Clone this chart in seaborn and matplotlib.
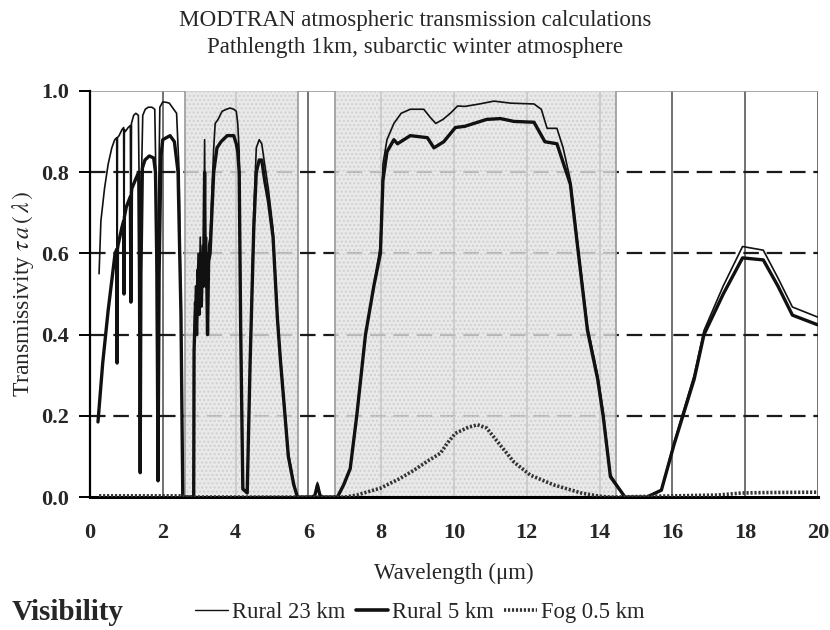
import numpy as np
import pandas as pd
import matplotlib
matplotlib.use("Agg")
import matplotlib.pyplot as plt
from matplotlib.lines import Line2D
import seaborn as sns

# ---- spectra (wavelength in um, transmissivity) ----
wl_rural23 = [0.25, 0.27, 0.30, 0.40, 0.50, 0.60, 0.68, 0.735, 0.745, 0.755, 0.80, 0.88,
              0.925, 0.935, 0.945, 0.97, 1.05, 1.11, 1.125, 1.14, 1.20, 1.26, 1.33,
              1.36, 1.38, 1.40, 1.45, 1.52, 1.60, 1.70, 1.78, 1.82, 1.85, 1.88, 1.92,
              2.00, 2.10, 2.18, 2.30, 2.38, 2.45, 2.50, 2.55, 2.85,
              2.86, 2.90, 2.93, 2.97, 3.00, 3.03, 3.06, 3.09, 3.12, 3.15, 3.17, 3.20,
              3.23, 3.26, 3.30, 3.35, 3.40, 3.44, 3.52, 3.63, 3.75, 3.85, 3.95, 4.02,
              4.06, 4.10, 4.14, 4.20, 4.32, 4.40, 4.50, 4.57, 4.65, 4.72, 4.80, 4.90,
              5.03, 5.15, 5.23, 5.35, 5.45, 5.60, 5.70, 6.10, 6.18, 6.25, 6.32, 6.40,
              6.80, 6.97, 7.15, 7.33, 7.57, 7.80, 7.98, 8.05, 8.16, 8.35, 8.55, 8.80,
              9.17, 9.35, 9.50, 9.70, 9.90, 10.10, 10.30, 10.70, 11.10, 11.56, 12.20,
              12.40, 12.56, 12.83, 13.00, 13.20, 13.40, 13.67, 13.95, 14.10, 14.30,
              14.70, 15.30, 15.70, 16.05, 16.60, 16.87, 17.40, 17.93, 18.50, 18.90,
              19.30, 20.00]
t_rural23 = [0.55, 0.60, 0.68, 0.76, 0.82, 0.86, 0.88, 0.885, 0.33, 0.885, 0.89, 0.905,
             0.91, 0.52, 0.905, 0.90, 0.91, 0.915, 0.50, 0.92, 0.94, 0.945, 0.94,
             0.70, 0.08, 0.72, 0.94, 0.955, 0.96, 0.96, 0.955, 0.75, 0.06, 0.70, 0.96,
             0.973, 0.972, 0.97, 0.955, 0.945, 0.80, 0.45, 0.0, 0.0,
             0.38, 0.52, 0.42, 0.60, 0.48, 0.64, 0.50, 0.62, 0.55, 0.88, 0.55, 0.64,
             0.42, 0.62, 0.64, 0.75, 0.86, 0.92, 0.93, 0.95, 0.955, 0.958, 0.955, 0.95,
             0.92, 0.85, 0.45, 0.02, 0.01, 0.35, 0.70, 0.86, 0.88, 0.87, 0.82, 0.76,
             0.66, 0.45, 0.35, 0.22, 0.11, 0.035, 0.0, 0.0, 0.005, 0.036, 0.005, 0.0,
             0.0, 0.03, 0.07, 0.20, 0.40, 0.52, 0.62, 0.82, 0.88, 0.92, 0.945, 0.955,
             0.955, 0.935, 0.92, 0.93, 0.945, 0.963, 0.962, 0.968, 0.975, 0.97, 0.968,
             0.955, 0.908, 0.908, 0.86, 0.78, 0.625, 0.42, 0.30, 0.21, 0.055,
             0.0, 0.0, 0.018, 0.135, 0.30, 0.41, 0.52, 0.617, 0.608, 0.54,
             0.468, 0.443]

wl_rural5 = [0.22, 0.35, 0.50, 0.69, 0.735, 0.745, 0.755, 0.77, 0.88, 0.925, 0.935,
             0.945, 1.00, 1.11, 1.125, 1.14, 1.15, 1.29, 1.34, 1.36, 1.38, 1.40, 1.44,
             1.51, 1.63, 1.75, 1.80, 1.84, 1.87, 1.90, 1.95, 2.00, 2.20, 2.32, 2.42,
             2.50, 2.55, 2.85,
             2.86, 2.90, 2.93, 2.97, 3.00, 3.03, 3.06, 3.09, 3.12, 3.15, 3.17, 3.20,
             3.23, 3.26, 3.30, 3.35, 3.40, 3.49, 3.60, 3.77, 3.95, 4.02, 4.06, 4.10,
             4.14, 4.20, 4.32, 4.40, 4.50, 4.57, 4.65, 4.72, 4.80, 4.90, 5.03, 5.15,
             5.23, 5.35, 5.45, 5.60, 5.70, 6.10, 6.18, 6.25, 6.32, 6.40,
             6.80, 6.97, 7.15, 7.33, 7.57, 7.80, 7.98, 8.05, 8.16, 8.35, 8.45, 8.80,
             9.27, 9.45, 9.72, 10.04, 10.30, 10.90, 11.28, 11.65, 12.20, 12.50, 12.83,
             13.20, 13.40, 13.67, 13.95, 14.10, 14.30, 14.70, 15.30, 15.70, 16.05,
             16.60, 16.87, 17.40, 17.93, 18.50, 18.90, 19.30, 20.00]
t_rural5 = [0.185, 0.33, 0.46, 0.60, 0.61, 0.33, 0.61, 0.62, 0.665, 0.68, 0.50,
            0.69, 0.715, 0.74, 0.48, 0.75, 0.76, 0.79, 0.80, 0.55, 0.06, 0.55, 0.81,
            0.83, 0.84, 0.835, 0.80, 0.55, 0.04, 0.55, 0.84, 0.88, 0.89, 0.875, 0.80,
            0.45, 0.0, 0.0,
            0.36, 0.48, 0.40, 0.56, 0.45, 0.60, 0.47, 0.58, 0.52, 0.80, 0.52, 0.60,
            0.40, 0.58, 0.60, 0.70, 0.80, 0.86, 0.875, 0.89, 0.89, 0.87, 0.85, 0.80,
            0.42, 0.02, 0.01, 0.33, 0.66, 0.80, 0.83, 0.83, 0.78, 0.73,
            0.64, 0.44, 0.34, 0.21, 0.10, 0.03, 0.0, 0.0, 0.004, 0.03, 0.004, 0.0,
            0.0, 0.03, 0.07, 0.20, 0.40, 0.52, 0.60, 0.78, 0.85, 0.88, 0.87, 0.89,
            0.885, 0.86, 0.875, 0.91, 0.913, 0.93, 0.932, 0.925, 0.923, 0.875, 0.87,
            0.77, 0.615, 0.41, 0.29, 0.20, 0.05, 0.0, 0.0, 0.017, 0.13,
            0.29, 0.40, 0.50, 0.589, 0.584, 0.52, 0.448, 0.424]

wl_fog = [0.25, 2.55, 2.60, 7.00, 7.33, 7.98, 8.50, 8.90, 9.30, 9.63, 9.82, 10.04,
          10.40, 10.65, 10.90, 11.20, 11.65, 12.10, 12.74, 13.50, 14.00, 14.30,
          15.50, 17.25, 17.90, 18.50, 20.00]
t_fog = [0.003, 0.003, 0.0, 0.0, 0.005, 0.022, 0.045, 0.066, 0.09, 0.108, 0.133, 0.157,
         0.172, 0.178, 0.17, 0.136, 0.086, 0.054, 0.03, 0.01, 0.002, 0.0,
         0.002, 0.005, 0.01, 0.011, 0.012]

series_names = ["Rural 23 km", "Rural 5 km", "Fog 0.5 km"]
x_ticks = list(range(0, 21, 2))
y_ticks = [0.0, 0.2, 0.4, 0.6, 0.8, 1.0]
shaded_bands = [(2.62, 5.71), (6.74, 14.44)]

sns.set_theme(style="white")
plt.rcParams["font.family"] = ["Liberation Serif", "DejaVu Serif"]
plt.rcParams["mathtext.fontset"] = "stix"

fig = plt.figure(figsize=(8.3, 6.3), dpi=100)
ax = fig.add_axes([0.1084, 0.211, 0.877, 0.6446])
ax.set_xlim(0, 20)
ax.set_ylim(0, 1)

# vertical grid lines
for xv in x_ticks[1:]:
    ax.axvline(xv, color="#4a4a4a", lw=1.1, zorder=0.5)
# horizontal dashed grid lines
for yv in y_ticks[1:-1]:
    ax.axhline(yv, color="#1a1a1a", lw=1.6, dashes=(7, 3.5), zorder=0.5)
ax.axhline(1.0, color="#999999", lw=1.2, zorder=0.5)

# stippled transmission bands
for x0, x1 in shaded_bands:
    ax.axvspan(x0, x1, facecolor="#e4e4e4", alpha=0.78, lw=0, zorder=1)
    ax.axvspan(x0, x1, facecolor="none", edgecolor="#d0d0d0", hatch="....", lw=0, zorder=1.1)
    ax.axvline(x0, color="#9a9a9a", lw=1.2, zorder=1.2)
    ax.axvline(x1, color="#9a9a9a", lw=1.2, zorder=1.2)

sns.lineplot(x=wl_rural23, y=t_rural23, ax=ax, color="#111111", lw=1.2,
             sort=False, estimator=None, zorder=3)
sns.lineplot(x=wl_rural5, y=t_rural5, ax=ax, color="#111111", lw=2.4,
             sort=False, estimator=None, zorder=3)
sns.lineplot(x=wl_fog, y=t_fog, ax=ax, color="#333333", lw=2.6,
             dashes=False, sort=False, estimator=None, zorder=3)
ax.lines[-1].set_dashes((0.6, 0.5))

for s in ["top", "right"]:
    ax.spines[s].set_visible(False)
ax.spines["left"].set_color("black")
ax.spines["left"].set_linewidth(1.6)
ax.spines["bottom"].set_color("black")
ax.spines["bottom"].set_linewidth(2.2)

ax.set_xticks(x_ticks)
ax.set_yticks(y_ticks)
ax.set_xticklabels([str(v) for v in x_ticks], fontsize=16, fontweight="bold")
ax.set_yticklabels([f"{v:.1f}" for v in y_ticks], fontsize=16, fontweight="bold")
ax.tick_params(axis="y", direction="out", length=8, width=1.4, color="black", pad=7, left=True)
ax.tick_params(axis="x", length=0, pad=19)

ax.set_xlabel("Wavelength (\u03bcm)", fontsize=16.5, labelpad=14)
ax.set_ylabel(r"Transmissivity $\tau\,a\,(\,\lambda\,)$", fontsize=17, labelpad=4)

fig.text(0.5, 0.967, "MODTRAN atmospheric transmission calculations",
         ha="center", va="center", fontsize=16.6)
fig.text(0.5, 0.924, "Pathlength 1km, subarctic winter atmosphere",
         ha="center", va="center", fontsize=16.6)

handles = [Line2D([], [], color="#111111", lw=1.0),
           Line2D([], [], color="#111111", lw=2.6),
           Line2D([], [], color="#333333", lw=2.6, dashes=(0.6, 0.5))]
fig.text(0.014, 0.028, "Visibility", fontsize=21, fontweight="bold",
         ha="left", va="center")
fig.legend(handles, series_names, loc="center left", bbox_to_anchor=(0.235, 0.028),
           ncol=3, frameon=False, fontsize=16.3, handlelength=1.45, handletextpad=0.18,
           columnspacing=0.45, borderaxespad=0, borderpad=0)

fig.savefig("out.png", dpi=100)
